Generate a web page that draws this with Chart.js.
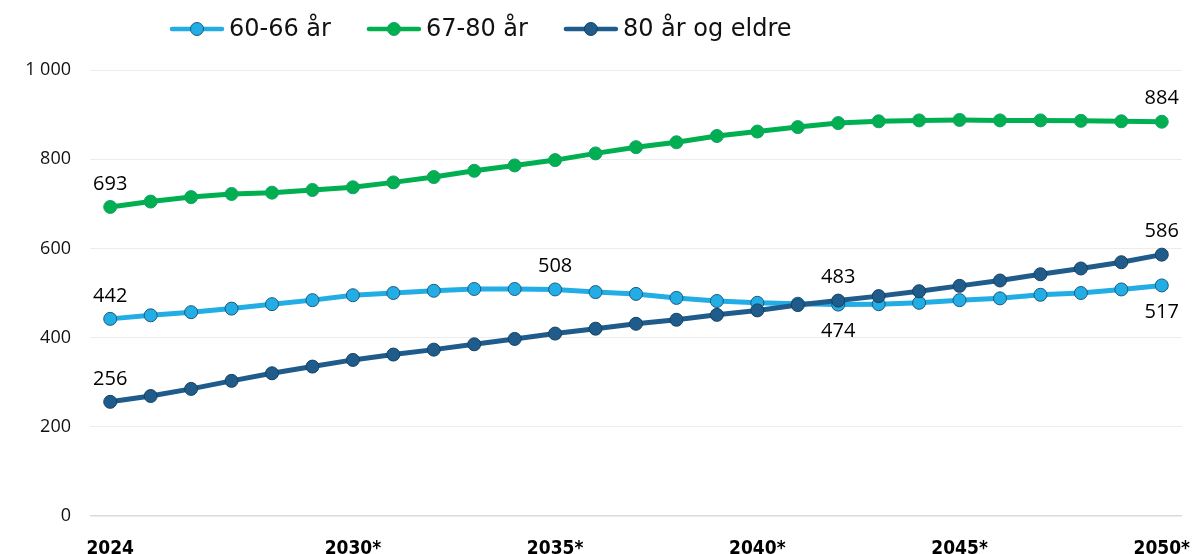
<!DOCTYPE html>
<html lang="no">
<head>
<meta charset="utf-8">
<title>Befolkning etter aldersgruppe</title>
<script src="https://cdn.jsdelivr.net/npm/chart.js@4.4.1/dist/chart.umd.min.js"></script>
<style>
  html, body { margin: 0; padding: 0; background: #fff; }
</style>
</head>
<body>
<canvas id="chart" width="1197" height="554"></canvas>
<script>
// categories (years), projected years get a * in the axis label
const years = [2024, 2025, 2026, 2027, 2028, 2029, 2030, 2031, 2032, 2033, 2034, 2035, 2036,
               2037, 2038, 2039, 2040, 2041, 2042, 2043, 2044, 2045, 2046, 2047, 2048, 2049, 2050];
const shownTicks = ["2024", "2030*", "2035*", "2040*", "2045*", "2050*"];

const seriesNames = ["60-66 år", "67-80 år", "80 år og eldre"];

// values, thousands
const age6066 = [442, 450, 457, 465, 475, 484, 495, 500, 505, 509, 509, 508, 502, 498,
                 489, 482, 478, 476, 474, 475, 478, 484, 488, 496, 500, 508, 517];
const age6780 = [693, 705, 715, 722, 725, 731, 737, 748, 760, 774, 786, 798, 813, 827,
                 838, 852, 862, 872, 881, 885, 887, 888, 887, 887, 886, 885, 884];
const age80plus = [256, 269, 285, 303, 320, 335, 350, 362, 373, 385, 397, 409, 420, 431,
                   440, 451, 461, 473, 483, 493, 504, 516, 528, 542, 555, 569, 586];

const yTicks = [0, 200, 400, 600, 800, 1000];

// which points get a value label: [dataset, index, above/below]
const valueLabels = [
    [1, 0, "above"], [1, 26, "above"],
    [0, 0, "above"], [0, 11, "above"], [0, 18, "below"], [0, 26, "below"],
    [2, 0, "above"], [2, 18, "above"], [2, 26, "above"]
];

const colors = {
    light: "#22ade4", lightEdge: "#1d5a80",
    green: "#00b050", greenEdge: "#17a069",
    dark: "#1f5c8c", darkEdge: "#16425f"
};

function tickText(year) {
    return year === 2024 ? "2024" : year + "*";
}

function fmt(v) {
    return String(v).replace(/\B(?=(\d{3})+(?!\d))/g, " ");
}

// value labels next to selected points
const labelPlugin = {
    id: "valueLabels",
    afterDatasetsDraw(chart) {
        const ctx = chart.ctx;
        ctx.save();
        ctx.font = "20px 'Open Sans'";
        ctx.fillStyle = "#000";
        ctx.textAlign = "center";
        ctx.textBaseline = "middle";
        valueLabels.forEach(([ds, i, pos]) => {
            const pt = chart.getDatasetMeta(ds).data[i];
            const v = chart.data.datasets[ds].data[i];
            const y = pos === "above" ? pt.y - 23 : pt.y + 27;
            ctx.fillText(fmt(v), pt.x, y);
        });
        ctx.restore();
    }
};

// legend: line with a marker in the middle, like the original
const legendPlugin = {
    id: "lineLegend",
    afterDraw(chart) {
        const ctx = chart.ctx;
        const items = [
            { text: seriesNames[0], c: colors.light, e: colors.lightEdge },
            { text: seriesNames[1], c: colors.green, e: colors.greenEdge },
            { text: seriesNames[2], c: colors.dark, e: colors.darkEdge }
        ];
        let x = 170;
        const y = 29;
        ctx.save();
        ctx.font = "24px 'DejaVu Sans'";
        ctx.textBaseline = "middle";
        items.forEach(it => {
            ctx.strokeStyle = it.c;
            ctx.lineWidth = 4.5;
            ctx.lineCap = "round";
            ctx.beginPath();
            ctx.moveTo(x + 2, y);
            ctx.lineTo(x + 52, y);
            ctx.stroke();
            ctx.beginPath();
            ctx.arc(x + 27, y, 6.5, 0, Math.PI * 2);
            ctx.fillStyle = it.c;
            ctx.fill();
            ctx.lineWidth = 1;
            ctx.strokeStyle = it.e;
            ctx.stroke();
            ctx.fillStyle = "#111";
            ctx.fillText(it.text, x + 59, y + 1);
            x += 59 + ctx.measureText(it.text).width + 36;
        });
        ctx.restore();
    }
};

function lineSet(label, data, c, e, order) {
    return {
        label: label,
        data: data,
        borderColor: c,
        backgroundColor: c,
        borderWidth: 5,
        pointRadius: 6.5,
        pointHoverRadius: 6.5,
        pointBackgroundColor: c,
        pointBorderColor: e,
        pointBorderWidth: 1,
        tension: 0,
        order: order
    };
}

new Chart(document.getElementById("chart"), {
    type: "line",
    data: {
        labels: years,
        datasets: [
            lineSet(seriesNames[0], age6066, colors.light, colors.lightEdge, 2),
            lineSet(seriesNames[1], age6780, colors.green, colors.greenEdge, 1),
            lineSet(seriesNames[2], age80plus, colors.dark, colors.darkEdge, 0)
        ]
    },
    options: {
        responsive: false,
        animation: false,
        layout: { padding: { top: 70, right: 15, left: 0, bottom: 0 } },
        plugins: {
            legend: { display: false },
            tooltip: { enabled: false }
        },
        scales: {
            x: {
                offset: true,
                grid: { display: false },
                border: { display: false },
                ticks: {
                    autoSkip: false,
                    maxRotation: 0,
                    padding: 14,
                    color: "#000",
                    font: { family: "'DejaVu Sans Condensed', 'DejaVu Sans'", size: 19, weight: "bold" },
                    callback: function (val, i) {
                        const t = tickText(years[i]);
                        return shownTicks.includes(t) ? t : "";
                    }
                },
                afterFit(scale) {
                    scale.height = 38;
                    scale.paddingLeft = 0;
                    scale.paddingRight = 0;
                }
            },
            y: {
                min: 0,
                max: 1000,
                grid: {
                    drawTicks: false,
                    lineWidth: ctx => ctx.tick && ctx.tick.value === 0 ? 1.5 : 1,
                    color: ctx => ctx.tick && ctx.tick.value === 0 ? "#d9d9d9" : "#ececec"
                },
                border: { display: false },
                afterBuildTicks(scale) {
                    scale.ticks = yTicks.map(v => ({ value: v }));
                },
                ticks: {
                    padding: 19,
                    color: "#111",
                    font: { family: "'Open Sans'", size: 18 },
                    callback: v => fmt(v)
                },
                afterFit(scale) {
                    scale.width = 90;
                }
            }
        }
    },
    plugins: [labelPlugin, legendPlugin]
});
</script>
</body>
</html>
